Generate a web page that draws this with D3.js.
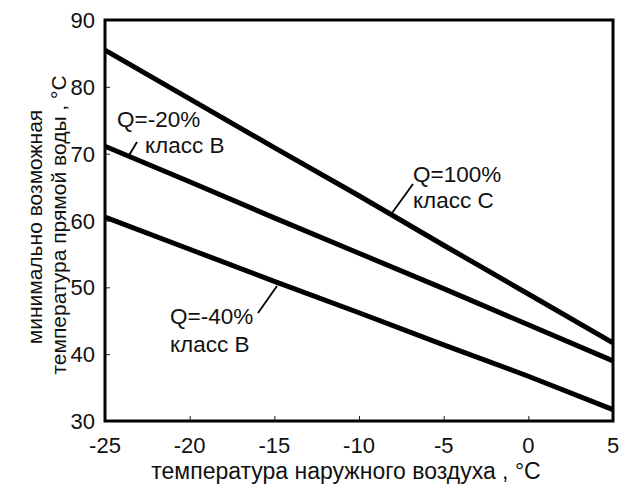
<!DOCTYPE html>
<html><head><meta charset="utf-8">
<script src="https://cdn.jsdelivr.net/npm/d3@7"></script>
<style>body{margin:0;background:#fff}svg{display:block}text{font-family:"Liberation Sans",Arial,sans-serif;fill:#111}</style>
</head><body><svg id="c" width="628" height="494"></svg>
<script>
const temps = [-25, -20, -15, -10, -5, 0, 5];
const seriesC100 = [85.5, 78.2, 70.9, 63.7, 56.3, 49.0, 41.7];
const seriesB20 = [71.1, 65.8, 60.4, 55.1, 49.8, 44.4, 39.0];
const seriesB40 = [60.5, 55.7, 50.9, 46.2, 41.4, 36.7, 31.7];
const xTicks = [-25, -20, -15, -10, -5, 0, 5];
const yTicks = [30, 40, 50, 60, 70, 80, 90];
const labels = [
  {name: "Q=-20%", cls: "класс В"},
  {name: "Q=100%", cls: "класс С"},
  {name: "Q=-40%", cls: "класс В"}
];
const xTitle = "температура наружного воздуха , °С";
const yTitle1 = "минимально возможная";
const yTitle2 = "температура прямой воды , °С";

const svg = d3.select("#c");
const L = 105, R = 613, T = 20, B = 421;
const x = d3.scaleLinear().domain([-25, 5]).range([L, R]);
const y = d3.scaleLinear().domain([30, 90]).range([B, T]);

// inner ticks
svg.append("g").attr("transform", `translate(0,${B})`)
  .call(d3.axisTop(x).tickValues(xTicks).tickSize(5).tickFormat(""))
  .call(g => g.select(".domain").remove())
  .selectAll("line").attr("stroke", "#222").attr("stroke-width", 1);
svg.append("g").attr("transform", `translate(${L},0)`)
  .call(d3.axisRight(y).tickValues(yTicks).tickSize(5).tickFormat(""))
  .call(g => g.select(".domain").remove())
  .selectAll("line").attr("stroke", "#222").attr("stroke-width", 1);

// tick labels
svg.append("g").selectAll("text").data(xTicks).join("text")
  .attr("x", d => x(d)).attr("y", B + 32).attr("text-anchor", "middle")
  .attr("font-size", 22).text(d => d);
svg.append("g").selectAll("text").data(yTicks).join("text")
  .attr("x", L - 10).attr("y", d => y(d) + 8).attr("text-anchor", "end")
  .attr("font-size", 22).text(d => d);

// lines
const line = d3.line().x((d, i) => x(temps[i])).y(d => y(d));
[seriesC100, seriesB20, seriesB40].forEach(s => {
  svg.append("path").datum(s).attr("d", line).attr("fill", "none")
    .attr("stroke", "#000").attr("stroke-width", 5).attr("stroke-linejoin", "round");
});

// frame
svg.append("rect").attr("x", L).attr("y", T).attr("width", R - L).attr("height", B - T)
  .attr("fill", "none").attr("stroke", "#000").attr("stroke-width", 3);

// annotations
const ann = [
  {lab: labels[0], tx: 117, ty: 127, dy: 26, l: [[128, 157], [137, 142]], cx: 145},
  {lab: labels[1], tx: 413, ty: 182, dy: 26, l: [[392, 213], [413, 184]], cx: 413},
  {lab: labels[2], tx: 170, ty: 324, dy: 28, l: [[258, 313], [277, 286]], cx: 170}
];
ann.forEach(a => {
  svg.append("text").attr("x", a.tx).attr("y", a.ty).attr("font-size", 22.5).text(a.lab.name);
  svg.append("text").attr("x", a.cx).attr("y", a.ty + a.dy).attr("font-size", 22.5).text(a.lab.cls);
  svg.append("line").attr("x1", a.l[0][0]).attr("y1", a.l[0][1]).attr("x2", a.l[1][0]).attr("y2", a.l[1][1])
    .attr("stroke", "#000").attr("stroke-width", 1.8);
});

// axis titles
svg.append("text").attr("x", 346).attr("y", 479).attr("text-anchor", "middle")
  .attr("font-size", 23).text(xTitle);
svg.append("text").attr("transform", "translate(42,227) rotate(-90)").attr("text-anchor", "middle")
  .attr("font-size", 21).text(yTitle1);
svg.append("text").attr("transform", "translate(66,225) rotate(-90)").attr("text-anchor", "middle")
  .attr("font-size", 21).text(yTitle2);
</script></body></html>
